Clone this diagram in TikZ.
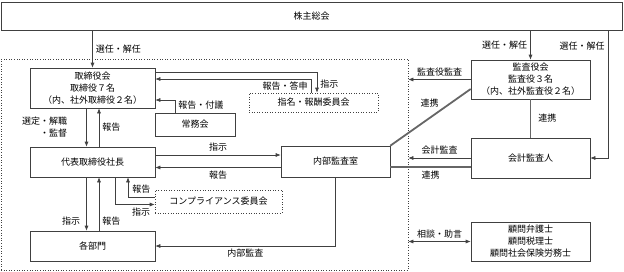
\documentclass[tikz,border=0pt]{standalone}
\usepackage{fontspec}
\setmainfont{Noto Sans CJK JP}
\usetikzlibrary{arrows.meta}

\begin{document}
\begin{tikzpicture}[x=1pt, y=-1pt,
		every node/.style={font=\fontsize{9}{12}\selectfont},
		box/.style={draw=black!75, semithick, align=center, inner sep=0pt},
		dotbox/.style={box, dotted},
		arrow/.style={->, semithick, draw=black!75, >={Latex[length=5pt,width=4pt]}},
		twoway/.style={<->, semithick, draw=black!75, >={Latex[length=5pt,width=4pt]}},
		link/.style={line width=1.8pt, draw=black!60},
		lbl/.style={inner sep=3pt},
		]
		\useasboundingbox (0,0) rectangle (624,271);
		
		\node[box, minimum width=621pt, minimum height=28pt] (kabunushi) at (311.5,16) {株主総会};
		\node[dotbox, minimum width=407pt, minimum height=211pt] (shanai) at (204.5,164.5) {};
		
		\node[box, minimum width=125pt, minimum height=40pt] (torishimari) at (92.5,88) {取締役会\\取締役７名\\（内、社外取締役２名）};
		\node[box, minimum width=80pt, minimum height=23pt]  (jomu)        at (195,124.5)  {常務会};
		\node[dotbox, minimum width=129pt, minimum height=19pt] (shimei)   at (313.5,102.5) {指名・報酬委員会};
		\node[box, minimum width=125pt, minimum height=30pt] (daihyo)      at (92.5,162)   {代表取締役社長};
		\node[box, minimum width=109pt, minimum height=31pt] (naibu)       at (335.5,161.5) {内部監査室};
		\node[dotbox, minimum width=127pt, minimum height=23pt] (comp)     at (218.5,201.5) {コンプライアンス委員会};
		\node[box, minimum width=125pt, minimum height=30pt] (kakubu)      at (92.5,246)   {各部門};
		\node[box, minimum width=119pt, minimum height=39pt] (kansayaku)   at (530.5,79.5) {監査役会\\監査役３名\\（内、社外監査役２名）};
		\node[box, minimum width=119pt, minimum height=40pt] (kaikei)      at (530.5,158)  {会計監査人};
		\node[box, minimum width=119pt, minimum height=39pt] (komon)       at (530.5,241.5) {顧問弁護士\\顧問税理士\\顧問社会保険労務士};
		
		\coordinate (kaikeiR) at (608,158);
		
		% shareholders
		\draw[arrow] (kabunushi.south -| torishimari.north) -- node[lbl, right] (senin1) {選任・解任} (torishimari.north);
		\draw[arrow] (kabunushi.south -| kansayaku.north) -- node[lbl, left] (senin2) {選任・解任} (kansayaku.north);
		\draw[arrow] (kabunushi.south -| kaikeiR) -- node[lbl, left, pos=0.12] (senin3) {選任・解任} (kaikeiR) -- (kaikei.east);
		
		% board
		\draw[arrow] ([xshift=-6pt]torishimari.south) -- node[lbl, left, align=right, xshift=-16pt] (sentei) {選定・解職\\・監督} ([xshift=-6pt]daihyo.north);
		\draw[arrow] ([xshift=6.5pt]daihyo.north) -- node[lbl, right] (hokoku1) {報告} ([xshift=6.5pt]torishimari.south);
		\draw[arrow] ([xshift=-20pt]jomu.north) |- node[lbl, right, pos=0.3] (fugi) {報告・付議} ([yshift=-12pt]torishimari.east);
		\draw[arrow] ([yshift=16pt]torishimari.east) -| node[lbl, right, pos=0.8] (shiji1) {指示} ([xshift=3.5pt]shimei.north);
		\draw[arrow] ([xshift=-2.5pt]shimei.north) |- node[lbl, left, pos=0.25] (toshin) {報告・答申} ([yshift=9pt]torishimari.east);
		
		% president
		\draw[arrow] ([yshift=7pt]daihyo.east) -- node[lbl, above] (shiji2) {指示} ([yshift=7pt]daihyo.east -| naibu.west);
		\draw[arrow] ([yshift=-6pt]naibu.west) -- node[lbl, below] (hokoku2) {報告} ([yshift=-6pt]naibu.west -| daihyo.east);
		\draw[arrow] ([xshift=22.5pt]daihyo.south) |- node[lbl, below, pos=0.83] (shiji3) {指示} ([yshift=-3pt]comp.west);
		\draw[arrow] ([yshift=4.5pt]comp.west) -| node[lbl, above, pos=0.25] (hokoku3) {報告} ([xshift=35.5pt]daihyo.south);
		\draw[arrow] ([xshift=-6pt]daihyo.south) -- node[lbl, left, pos=0.82, xshift=-3pt] (shiji4) {指示} ([xshift=-6pt]kakubu.north);
		\draw[arrow] ([xshift=6.5pt]kakubu.north) -- node[lbl, right, pos=0.18] (hokoku4) {報告} ([xshift=6.5pt]daihyo.south);
		\draw[arrow] (naibu.south) |- node[lbl, below, pos=0.75] (kansa1) {内部監査} (kakubu.east);
		
		% auditors
		\draw[arrow] (kansayaku.west) -- node[lbl, above] (kansa2) {監査役監査} (kansayaku.west -| shanai.east);
		\draw[link] ([yshift=-9.5pt]kansayaku.west) -- node[lbl, left, pos=0.25, xshift=-8pt] (renkei1) {連携} (naibu.north east);
		\draw[link] (kansayaku.south) -- node[lbl, right, xshift=4pt] (renkei2) {連携} (kaikei.north);
		\draw[arrow] (kaikei.west) -- node[lbl, above] (kansa3) {会計監査} (kaikei.west -| shanai.east);
		\draw[link] ([yshift=-5.5pt]naibu.east) -- node[lbl, below] (renkei3) {連携} ([yshift=-5.5pt]naibu.east -| kaikei.west);
		\draw[twoway] (komon.west -| shanai.east) -- node[lbl, above] (sodan) {相談・助言} (komon.west);
		
	\end{tikzpicture}
\end{document}
